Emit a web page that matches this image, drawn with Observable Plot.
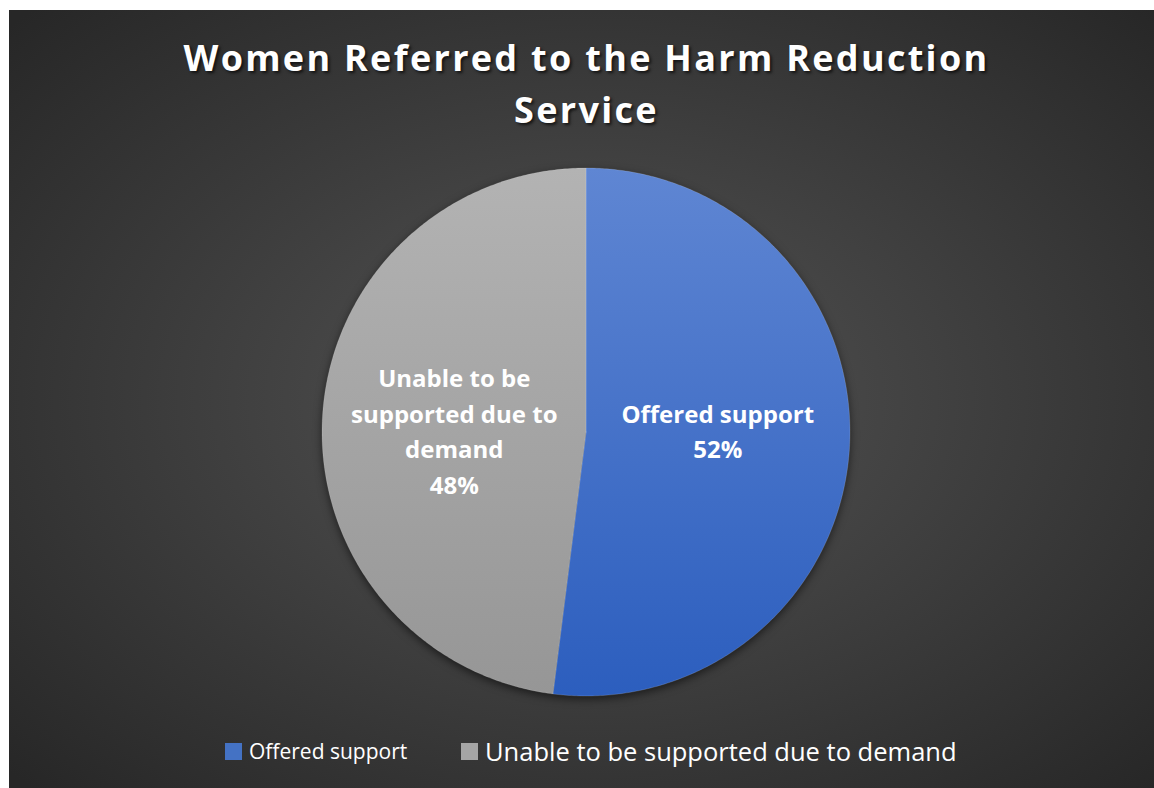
<!DOCTYPE html>
<html><head><meta charset="utf-8">
<script src="https://cdn.jsdelivr.net/npm/d3@7"></script>
<script src="https://cdn.jsdelivr.net/npm/@observablehq/plot@0.6"></script>
<style>
html,body{margin:0;padding:0;background:#fff;}
#chart{position:absolute;left:9px;top:10px;width:1145px;height:778px;
  background:radial-gradient(ellipse 70% 70% at 51% 50%, #545454 0%, #404040 45%, #272727 100%);
  font-family:"Open Sans",sans-serif;color:#fff;overflow:hidden}
#title{height:130px;box-sizing:border-box;padding-top:22px;padding-left:10px;text-align:center;font-weight:700;
  font-size:36px;line-height:52px;letter-spacing:2.3px;text-shadow:2px 2px 3px rgba(0,0,0,.65)}
#plot svg{display:block;overflow:visible}
#plot g[aria-label="line"]{filter:drop-shadow(0px 3px 4px rgba(0,0,0,0.55))}
#legend{position:relative;height:88px}
.item{position:absolute;top:0;height:102px;display:flex;align-items:center;white-space:nowrap}
.sw{display:inline-block;width:17px;height:17px;margin-right:7px}
</style>
</head>
<body>
<div id="chart">
  <div id="title">Women Referred to the Harm Reduction<br>Service</div>
  <div id="plot"></div>
  <div id="legend"></div>
</div>
<script>
// ---- data ----
const categories = ["Offered support", "Unable to be supported due to demand"];
const values = [52, 48];
const percentLabels = ["52%", "48%"];
const labelText = ["Offered support", "Unable to be\nsupported due to\ndemand"];
const sliceFills = ["url(#gradBlue)", "url(#gradGray)"];
const legendSwatches = ["#4472c4", "#a5a5a5"];

// ---- geometry from data ----
const pie = d3.pie().sort(null).value(d => d.value);
const table = categories.map((c, i) => ({category: c, value: values[i], label: labelText[i] + "\n" + percentLabels[i]}));
const arcs = pie(table);
const pts = [];
for (const a of arcs) {
  const cat = a.data.category;
  pts.push({category: cat, x: 0, y: 0});
  const n = Math.max(2, Math.ceil((a.endAngle - a.startAngle) / 0.01));
  for (let k = 0; k <= n; k++) {
    const t = a.startAngle + (a.endAngle - a.startAngle) * k / n;
    pts.push({category: cat, x: Math.sin(t), y: Math.cos(t)});
  }
  pts.push({category: cat, x: 0, y: 0});
}
const labels = arcs.map(a => {
  const m = (a.startAngle + a.endAngle) / 2;
  return {label: a.data.label, x: 0.5 * Math.sin(m), y: 0};
});

const W = 1145, H = 560;
const chart = Plot.plot({
  width: W, height: H,
  marginLeft: 312.5, marginRight: 304.5, marginTop: 27.5, marginBottom: 4.5,
  x: {domain: [-1, 1], axis: null},
  y: {domain: [-1, 1], axis: null},
  color: {domain: categories, range: sliceFills},
  style: {background: "transparent"},
  marks: [
    Plot.line(pts, {x: "x", y: "y", z: "category", fill: "category", stroke: "#ffffff", strokeOpacity: 0.15, strokeWidth: 1, curve: "linear"}),
    Plot.text(labels, {x: "x", y: "y", text: "label", fill: "white", fontSize: 24, fontWeight: "bold",
      fontFamily: "Open Sans", lineHeight: 1.48, dy: -3})
  ]
});
const ns = "http://www.w3.org/2000/svg";
const defs = document.createElementNS(ns, "defs");
defs.innerHTML = `
<linearGradient id="gradBlue" x1="0" y1="0" x2="0" y2="1">
  <stop offset="0" stop-color="#5f86d3"/><stop offset="1" stop-color="#2c5ebe"/>
</linearGradient>
<linearGradient id="gradGray" x1="0" y1="0" x2="0" y2="1">
  <stop offset="0" stop-color="#b3b3b3"/><stop offset="1" stop-color="#969696"/>
</linearGradient>`;
chart.insertBefore(defs, chart.firstChild);
document.getElementById("plot").appendChild(chart);

// ---- legend ----
const legend = document.getElementById("legend");
const legendX = [216, 452];
const legendFont = [21, 25.5];
categories.forEach((c, i) => {
  const it = document.createElement("div");
  it.className = "item";
  it.style.left = legendX[i] + "px";
  it.style.fontSize = legendFont[i] + "px";
  it.innerHTML = `<span class="sw" style="background:${legendSwatches[i]}"></span><span>${c}</span>`;
  legend.appendChild(it);
});
</script>
</body></html>
